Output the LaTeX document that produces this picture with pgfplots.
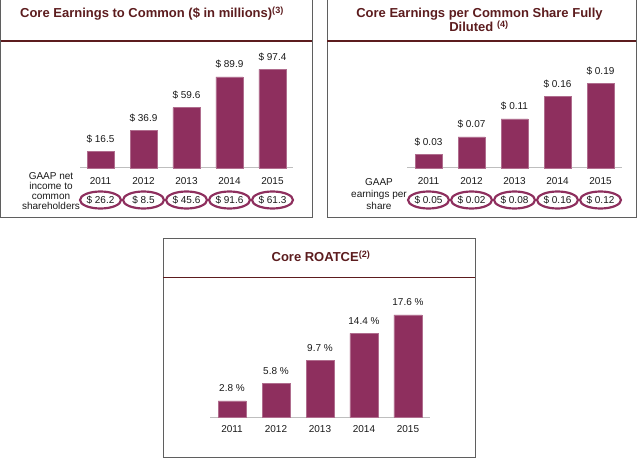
\documentclass[border=0pt]{standalone}
\usepackage{fontspec}
\setmainfont{Liberation Sans}
\usepackage{pgfplots}
\pgfplotsset{compat=1.18}
\usetikzlibrary{shapes.geometric}

\definecolor{barc}{RGB}{142,47,94}
\definecolor{titlec}{RGB}{92,28,30}
\definecolor{boxc}{RGB}{95,95,95}
\definecolor{basec}{RGB}{190,190,190}
\definecolor{txtc}{RGB}{25,25,25}

\newcommand{\lbl}{\fontsize{10}{12}\selectfont}
\newcommand{\ttl}{\fontsize{13}{15}\selectfont\bfseries}

\pgfplotsset{
  panel/.style={
    scale only axis, clip=false,
    anchor=south west,
    ymin=0, enlargelimits=false,
    hide y axis,
    axis x line*=bottom,
    x axis line style={basec, line width=1pt},
    major tick length=0pt,
    xtick={0,...,4},
    xticklabels={2011,2012,2013,2014,2015},
    xticklabel style={anchor=base, yshift=-16.5pt, font=\lbl, text=txtc},
    /pgf/number format/assume math mode=true,
  },
  bars/.style={
    ybar, bar width=27pt, fill=barc, draw=barc!70!white, line width=0.5pt,
    point meta=y,
    nodes near coords style={anchor=base, yshift=9pt, font=\lbl, text=txtc},
  },
  ovals/.style={
    draw=none, mark=none, point meta=explicit symbolic, nodes near coords,
    nodes near coords style={ellipse, draw=barc, line width=2.2pt,
      minimum width=41pt, minimum height=17pt, inner sep=0pt,
      anchor=center, yshift=-32pt, font=\lbl, text=txtc},
  },
}

\begin{document}
\begin{tikzpicture}[x=1pt, y=1pt]
\path[use as bounding box] (0,0) rectangle (640,458);

% panel frames and title rules
\draw[boxc, line width=0.8pt] (0.5,470) -- (0.5,241) -- (312,241) -- (312,470);
\draw[boxc, line width=0.8pt] (327,470) -- (327,241) -- (636,241) -- (636,470);
\draw[boxc, line width=0.8pt] (163,220) rectangle (475,1);
\draw[titlec, line width=1.5pt] (0.5,417) -- (312,417);
\draw[titlec, line width=1.5pt] (327,417) -- (636,417);
\draw[titlec, line width=1.5pt] (163,180.7) -- (475,180.7);

% titles
\node[anchor=base, text=titlec, font=\ttl] at (152,440.5)
  {Core Earnings to Common (\$ in millions)\textsuperscript{(3)}};
\node[anchor=base, text=titlec, font=\ttl] at (479.5,440.7)
  {Core Earnings per Common Share Fully};
\node[anchor=base, text=titlec, font=\ttl] at (479,426.3)
  {Diluted \textsuperscript{(4)}};
\node[anchor=base, text=titlec, font=\ttl] at (321,196.3)
  {Core ROATCE\textsuperscript{(2)}};

% row labels
\node[align=center, text=txtc, font=\fontsize{10}{10}\selectfont] at (51,267)
  {GAAP net\\income to\\common\\shareholders};
\node[align=center, text=txtc, font=\fontsize{10}{12}\selectfont] at (379,264)
  {GAAP\\earnings per\\share};

% Core earnings to common
\begin{axis}[panel, at={(80pt,290pt)}, width=213pt, height=101.3pt,
  xmin=-0.477, xmax=4.477, ymax=100]
\addplot[bars, nodes near coords={\$ \pgfmathprintnumber[fixed,fixed zerofill,precision=1]{\pgfplotspointmeta}}]
  coordinates {(0,16.5) (1,36.9) (2,59.6) (3,89.9) (4,97.4)};
\addplot[ovals] coordinates {
  (0,0) [\$ 26.2]
  (1,0) [\$ 8.5]
  (2,0) [\$ 45.6]
  (3,0) [\$ 91.6]
  (4,0) [\$ 61.3]};
\end{axis}

% Core EPS fully diluted
\begin{axis}[panel, at={(407pt,290pt)}, width=215pt, height=89.2pt,
  xmin=-0.5, xmax=4.5, ymax=0.2]
\addplot[bars, nodes near coords={\$ \pgfmathprintnumber[fixed,fixed zerofill,precision=2]{\pgfplotspointmeta}}]
  coordinates {(0,0.03) (1,0.07) (2,0.11) (3,0.16) (4,0.19)};
\addplot[ovals] coordinates {
  (0,0) [\$ 0.05]
  (1,0) [\$ 0.02]
  (2,0) [\$ 0.08]
  (3,0) [\$ 0.16]
  (4,0) [\$ 0.12]};
\end{axis}

% Core ROATCE
\begin{axis}[panel, at={(210pt,41pt)}, width=220pt, height=116pt,
  xmin=-0.5, xmax=4.5, ymax=20,
  xticklabel style={yshift=1pt}]
\addplot[bars, bar width=28pt, nodes near coords={\pgfmathprintnumber[fixed,fixed zerofill,precision=1]{\pgfplotspointmeta} \%}]
  coordinates {(0,2.8) (1,5.8) (2,9.7) (3,14.4) (4,17.6)};
\end{axis}
\end{tikzpicture}
\end{document}
